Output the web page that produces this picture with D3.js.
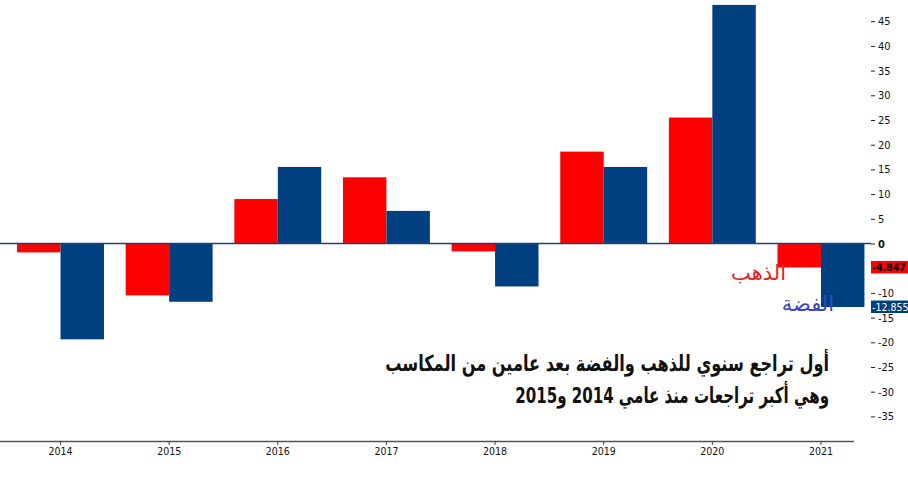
<!DOCTYPE html>
<html>
<head>
<meta charset="utf-8">
<script src="https://cdn.jsdelivr.net/npm/d3@7"></script>
<style>
  body { margin: 0; background: #fff; }
  svg { display: block; }
</style>
</head>
<body>
<svg id="chart"></svg>
<script>
// yearly change, percent
var years = ["2014", "2015", "2016", "2017", "2018", "2019", "2020", "2021"];
var gold = [-1.8, -10.5, 9.0, 13.4, -1.6, 18.6, 25.5, -4.847];
var silver = [-19.4, -11.8, 15.5, 6.6, -8.7, 15.5, 48.3, -12.855];
// -5 sits under the gold value tag, so it is not listed
var yTicks = [45, 40, 35, 30, 25, 20, 15, 10, 5, 0, -10, -15, -20, -25, -30, -35];
var goldName = "الذهب";
var silverName = "الفضة";
var titleLines = ["أول تراجع سنوي للذهب والفضة بعد عامين من المكاسب", "وهي أكبر تراجعات منذ عامي 2014 و2015"];

function main(){
    var width = 908, height = 482;
    var svg = d3.select("#chart")
        .attr("width", width)
        .attr("height", height);

    var x = d3.scaleBand()
        .domain(years)
        .range([6.2, 875.3])
        .paddingInner(0.2)
        .paddingOuter(0.1);

    var y = d3.scaleLinear()
        .domain([0, 45])
        .range([243.5, 21.2]);

    var half = x.bandwidth() / 2;

    // bars
    svg.selectAll("rect.gold")
        .data(gold)
        .enter()
        .append("rect")
        .attr("class", "gold")
        .attr("x", function(d, i){ return x(years[i]); })
        .attr("y", function(d){ return Math.min(y(d), y(0)); })
        .attr("width", half)
        .attr("height", function(d){ return Math.abs(y(d) - y(0)); })
        .attr("fill", "#ff0000");

    svg.selectAll("rect.silver")
        .data(silver)
        .enter()
        .append("rect")
        .attr("class", "silver")
        .attr("x", function(d, i){ return x(years[i]) + half; })
        .attr("y", function(d){ return Math.min(y(d), y(0)); })
        .attr("width", half)
        .attr("height", function(d){ return Math.abs(y(d) - y(0)); })
        .attr("fill", "#004080");

    // zero line
    svg.append("line")
        .attr("x1", 0)
        .attr("x2", 871)
        .attr("y1", y(0))
        .attr("y2", y(0))
        .attr("stroke", "#1f4272")
        .attr("stroke-width", 1.6);

    // right axis
    var yAxis = svg.append("g")
        .attr("transform", "translate(871,0)")
        .call(d3.axisRight(y).tickValues(yTicks).tickSize(4).tickPadding(3)
            .tickFormat(function(d){ return d3.format("d")(d).replace("−", "-"); }));
    yAxis.select(".domain").remove();
    yAxis.selectAll("line").attr("stroke", "#222");
    yAxis.selectAll("text")
        .attr("font-family", "DejaVu Sans Condensed, DejaVu Sans")
        .attr("font-size", "11px")
        .attr("fill", "#111")
        .attr("font-weight", function(d){ return d === 0 ? "bold" : "normal"; });

    // bottom axis
    var xAxis = svg.append("g")
        .attr("transform", "translate(0,441)")
        .call(d3.axisBottom(x).tickSize(4).tickPadding(3).tickSizeOuter(0));
    xAxis.select(".domain")
        .attr("d", "M0,0.5H854")
        .attr("stroke", "#555")
        .attr("stroke-width", 1.5);
    xAxis.selectAll("line").attr("stroke", "#444");
    xAxis.selectAll("text")
        .attr("font-family", "DejaVu Sans Condensed, DejaVu Sans")
        .attr("font-size", "10.5px")
        .attr("fill", "#111");

    // last value labels on the axis
    var lastGold = gold[gold.length - 1], lastSilver = silver[silver.length - 1];
    var tags = [
        {v: lastGold, bg: "#ff0000", fg: "#000", w: "bold"},
        {v: lastSilver, bg: "#004080", fg: "#fff", w: "normal"}
    ];
    var tag = svg.selectAll("g.tag")
        .data(tags)
        .enter()
        .append("g")
        .attr("class", "tag")
        .attr("transform", function(d){ return "translate(871," + y(d.v) + ")"; });
    tag.append("rect")
        .attr("x", 0)
        .attr("y", -6.5)
        .attr("width", 40)
        .attr("height", 12.5)
        .attr("fill", function(d){ return d.bg; });
    tag.append("text")
        .attr("x", 1)
        .attr("y", 3.5)
        .attr("font-family", "DejaVu Sans Condensed, DejaVu Sans")
        .attr("font-size", "10.5px")
        .attr("font-weight", function(d){ return d.w; })
        .attr("fill", function(d){ return d.fg; })
        .text(function(d){ return d3.format(".3f")(d.v).replace("−", "-"); });

    // series names
    svg.append("text")
        .attr("x", 786)
        .attr("y", 280)
        .attr("text-anchor", "end")
        .attr("font-family", "DejaVu Sans")
        .attr("font-size", "21px")
        .attr("fill", "#e8201c")
        .text(goldName);
    svg.append("text")
        .attr("x", 834)
        .attr("y", 311)
        .attr("text-anchor", "end")
        .attr("font-family", "DejaVu Sans")
        .attr("font-size", "21px")
        .attr("fill", "#3b44c8")
        .text(silverName);

    // title, right-to-left, anchored on its right edge and squeezed to the reference widths
    var titleWidths = [444, 314];
    svg.selectAll("text.title")
        .data(titleLines)
        .enter()
        .append("text")
        .attr("class", "title")
        .attr("x", 0)
        .attr("y", 0)
        .attr("direction", "rtl")
        .attr("text-anchor", "start")
        .attr("font-family", "DejaVu Sans")
        .attr("font-weight", "bold")
        .attr("font-size", "22px")
        .attr("fill", "#111")
        .text(function(d){ return d; })
        .attr("transform", function(d, i){
            var w = this.getComputedTextLength();
            var sx = titleWidths[i] / w;
            return "translate(829," + (371 + i * 32) + ") scale(" + sx + ",1)";
        });
}
main();
</script>
</body>
</html>
